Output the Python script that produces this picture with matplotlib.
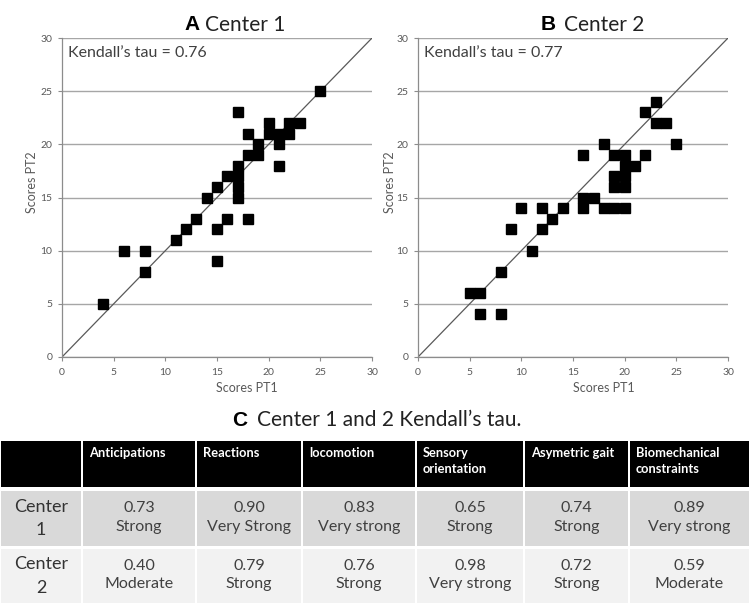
import matplotlib
matplotlib.use("Agg")
import matplotlib.pyplot as plt
from matplotlib.patches import Rectangle

plt.rcParams['font.family'] = ['Lato', 'DejaVu Sans']

# --- data -------------------------------------------------------------
a_pt1 = [4, 6, 8, 8, 11, 12, 13, 14, 15, 15, 15, 16, 16, 17, 17, 17, 17, 17,
         18, 18, 18, 19, 19, 20, 20, 21, 21, 21, 22, 22, 23, 25]
a_pt2 = [5, 10, 10, 8, 11, 12, 13, 15, 16, 12, 9, 13, 17, 23, 18, 17, 16, 15,
         21, 19, 13, 19, 20, 22, 21, 21, 20, 18, 22, 21, 22, 25]
a_tau = "0.76"

b_pt1 = [5, 6, 6, 8, 8, 9, 10, 11, 12, 12, 13, 14, 16, 16, 16, 17, 18, 18,
         19, 19, 19, 19, 20, 20, 20, 20, 20, 21, 22, 22, 23, 23, 24, 25]
b_pt2 = [6, 6, 4, 4, 8, 12, 14, 10, 14, 12, 13, 14, 19, 15, 14, 15, 20, 14,
         19, 17, 16, 14, 19, 18, 17, 16, 14, 18, 23, 19, 24, 22, 22, 20]
b_tau = "0.77"

ticks = [0, 5, 10, 15, 20, 25, 30]

domains = ["Anticipations", "Reactions", "locomotion", "Sensory\norientation",
           "Asymetric gait", "Biomechanical\nconstraints"]
rows = ["Center\n1", "Center\n2"]
tau_c1 = ["0.73", "0.90", "0.83", "0.65", "0.74", "0.89"]
lvl_c1 = ["Strong", "Very Strong", "Very strong", "Strong", "Strong", "Very strong"]
tau_c2 = ["0.40", "0.79", "0.76", "0.98", "0.72", "0.59"]
lvl_c2 = ["Moderate", "Strong", "Strong", "Very strong", "Strong", "Moderate"]

W, H = 750, 605
fig = plt.figure(figsize=(W / 100, H / 100), dpi=100)

# overlay in pixel coords for titles and the table
ov = fig.add_axes([0, 0, 1, 1])
ov.set_xlim(0, W); ov.set_ylim(H, 0)
ov.axis("off")

GRID = "#a6a6a6"
TXT = "#595959"


def scatter_panel(left_px, xs, ys, tau):
    ax = fig.add_axes([left_px / W, 1 - 357 / H, 310 / W, (357 - 38) / H])
    ax.set_xlim(0, 30); ax.set_ylim(0, 30)
    ax.set_xticks(ticks); ax.set_yticks(ticks)
    ax.yaxis.grid(True, color=GRID, lw=1.0)
    ax.set_axisbelow(True)
    for s in ("top", "right"):
        ax.spines[s].set_visible(False)
    for s in ("left", "bottom"):
        ax.spines[s].set_color("#8c8c8c")
        ax.spines[s].set_linewidth(0.9)
    ax.tick_params(direction="out", length=3, width=0.8, color="#8c8c8c",
                   labelsize=7.5, labelcolor=TXT)
    ax.tick_params(axis="x", pad=5)
    ax.tick_params(axis="y", pad=4)
    ax.plot([0, 30], [0, 30], color="#595959", lw=0.9, zorder=2)
    ax.plot(xs, ys, "s", color="black", ms=7.3, zorder=3, clip_on=False)
    ax.text(0.6, 28.6, f"Kendall\u2019s tau = {tau}", fontsize=11.5,
            color="#404040", va="center", ha="left")
    ax.patch.set_alpha(0)
    return ax


scatter_panel(62, a_pt1, a_pt2, a_tau)
scatter_panel(418, b_pt1, b_pt2, b_tau)

# axis labels
for xl, yl in [(247, 32), (604, 390)]:
    ov.text(xl, 388, "Scores PT1", fontsize=9, color=TXT, ha="center", va="center")
    ov.text(yl, 182, "Scores PT2", fontsize=9, color=TXT, ha="center",
            va="center", rotation=90)

# panel titles
for letter, lx, rest, rx in [("A", 184, "Center 1", 205), ("B", 541, "Center 2", 564)]:
    ov.text(lx, 25, letter, fontsize=15, fontweight="bold", family="Liberation Sans",
            ha="left", va="center")
    ov.text(rx, 25, rest, fontsize=15, color="#222222", ha="left", va="center")

ov.text(232, 420, "C", fontsize=15, fontweight="bold", family="Liberation Sans",
        ha="left", va="center")
ov.text(257, 420, "Center 1 and 2 Kendall\u2019s tau.", fontsize=15,
        color="#222222", ha="left", va="center")

# --- table ------------------------------------------------------------
col_edges = [0, 82, 196, 302, 416, 524, 629, 750]
row_edges = [(440, 488), (490, 547), (548, 604)]
row_bg = ["black", "#d9d9d9", "#f2f2f2"]
gap = 1.0

for r, (y0, y1) in enumerate(row_edges):
    for c in range(len(col_edges) - 1):
        x0, x1 = col_edges[c], col_edges[c + 1]
        ov.add_patch(Rectangle((x0 + gap, y0 + gap), x1 - x0 - 2 * gap,
                               y1 - y0 - 2 * gap, facecolor=row_bg[r],
                               edgecolor="none"))

# header
for c, name in enumerate(domains):
    x0 = col_edges[c + 1]
    ov.text(x0 + 7, 447, name, fontsize=9.3, fontweight="bold", color="white",
            ha="left", va="top", linespacing=1.4)

# body rows
body = [(tau_c1, lvl_c1), (tau_c2, lvl_c2)]
for r, (taus, lvls) in enumerate(body):
    y0, y1 = row_edges[r + 1]
    yc = (y0 + y1) / 2
    ov.text(col_edges[1] / 2, yc, rows[r], fontsize=13, color="#333333",
            ha="center", va="center", linespacing=1.6)
    for c in range(len(taus)):
        xc = (col_edges[c + 1] + col_edges[c + 2]) / 2
        ov.text(xc, yc - 1, f"{taus[c]}\n{lvls[c]}", fontsize=11.5, color="#404040",
                ha="center", va="center", linespacing=1.45)

fig.savefig("out.png", dpi=100)
